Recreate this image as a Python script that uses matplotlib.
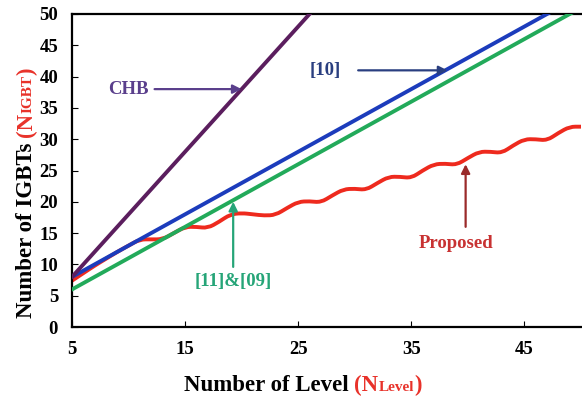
import numpy as np
import matplotlib
matplotlib.use("Agg")
import matplotlib.pyplot as plt
from matplotlib.path import Path
from matplotlib.patches import PathPatch

# ---- data ----
chb_levels = [5, 15, 25, 35]
chb_igbt = [8, 28, 48, 68]

ref10_levels = [5, 15, 25, 35, 45, 55]
ref10_igbt = [8, 18, 28, 38, 48, 58]

ref11_levels = [5, 15, 25, 35, 45, 55]
ref11_igbt = [6, 16, 26, 36, 46, 56]

prop_levels = list(range(5, 51))
prop_igbt = [7.4, 8.6, 9.8, 10.9, 12.0, 13.0, 14.0, 14.0, 14.0, 15.0,
             16.0, 16.0, 15.8, 16.8, 18.0, 18.2, 18.0, 17.8, 17.9, 19.0,
             20.0, 20.1, 19.9, 21.0, 22.0, 22.1, 21.9, 23.0, 24.0, 24.0,
             23.8, 25.0, 26.0, 26.1, 25.9, 27.0, 28.0, 28.0, 27.8, 29.0,
             30.0, 30.0, 29.8, 31.0, 32.0, 32.0]

x_ticks = [5, 15, 25, 35, 45]
y_ticks = [0, 5, 10, 15, 20, 25, 30, 35, 40, 45, 50]

SERIF = "Liberation Serif"

fig = plt.figure(figsize=(5.82, 3.98), dpi=100)
ax = fig.add_axes([72 / 582, 1 - 327 / 398, 509 / 582, 313 / 398])

LW = 2.8


def smooth_path(xs, ys):
    """Quadratic B-spline path through the given points (rounded corners)."""
    pts = np.column_stack([xs, ys])
    verts = [pts[0], (pts[0] + pts[1]) / 2]
    codes = [Path.MOVETO, Path.LINETO]
    for i in range(1, len(pts) - 1):
        verts += [pts[i], (pts[i] + pts[i + 1]) / 2]
        codes += [Path.CURVE3, Path.CURVE3]
    verts.append(pts[-1])
    codes.append(Path.LINETO)
    return Path(verts, codes)


ax.add_patch(PathPatch(smooth_path(prop_levels, prop_igbt), fill=False,
                       edgecolor="#ee2a1e", lw=LW, capstyle="round",
                       joinstyle="round", zorder=2))
ax.plot(ref11_levels, ref11_igbt, color="#22aa5a", lw=LW, zorder=3)
ax.plot(ref10_levels, ref10_igbt, color="#1c3cbc", lw=LW, zorder=4)
ax.plot(chb_levels, chb_igbt, color="#5b1e5e", lw=LW, zorder=5)

ax.set_xlim(5, 50)
ax.set_ylim(0, 50)
ax.set_xticks(x_ticks)
ax.set_yticks(y_ticks)
ax.tick_params(direction="in", length=4, width=0.8, pad=10,
               labelsize=13.5)
for lab in ax.get_xticklabels() + ax.get_yticklabels():
    lab.set_fontfamily(SERIF)
    lab.set_fontweight("bold")
for s in ("left", "bottom", "top"):
    ax.spines[s].set_linewidth(1.6)
ax.spines["right"].set_visible(False)

# ---- annotations ----
ann_font = dict(fontfamily=SERIF, fontweight="bold", fontsize=13.5)


def arrow(tail, tip, color):
    ax.annotate("", xy=tip, xytext=tail,
                arrowprops=dict(arrowstyle="-|>", color=color, lw=1.6,
                                mutation_scale=13, shrinkA=0, shrinkB=0),
                zorder=6)


ax.text(10.0, 38, "CHB", color="#5a3f8c", ha="center", va="center", **ann_font)
arrow((12.3, 38), (20.0, 38), "#5a3f8c")

ax.text(27.4, 41, "[10]", color="#2a3f80", ha="center", va="center", **ann_font)
arrow((30.3, 41), (38.2, 41), "#2a3f80")

ax.text(19.25, 7.2, "[11]&[09]", color="#26a578", ha="center", va="center", **ann_font)
arrow((19.25, 9.6), (19.25, 20.0), "#26a578")

ax.text(39.0, 13.4, "Proposed", color="#c83232", ha="center", va="center", **ann_font)
arrow((39.8, 16.0), (39.8, 26.0), "#9a2a2a")

# ---- multi-colour axis titles ----
fig.canvas.draw()
renderer = fig.canvas.get_renderer()
RED = "#e8322a"


def chain(pieces, x0, y0, rotation=0):
    """Place text pieces one after another sharing a common baseline."""
    x, y = x0, y0
    for txt, color, size in pieces:
        t = fig.text(x / fig.bbox.width, y / fig.bbox.height, txt,
                     color=color, fontsize=size, fontfamily=SERIF,
                     fontweight="bold", rotation=rotation,
                     rotation_mode="anchor", ha="left", va="baseline")
        bb = t.get_window_extent(renderer)
        if rotation == 0:
            x += bb.width
        else:
            y += bb.height


H = fig.bbox.height
chain([("Number of Level ", "black", 16.5), ("(N", RED, 16.5),
       ("Level", RED, 11), (")", RED, 16.5)], 184, H - 391)
chain([("Number of IGBTs ", "black", 16.5), ("(N", RED, 16.5),
       ("IGBT", RED, 11), (")", RED, 16.5)], 32, H - 318, rotation=90)

fig.savefig("out.png", dpi=100)
